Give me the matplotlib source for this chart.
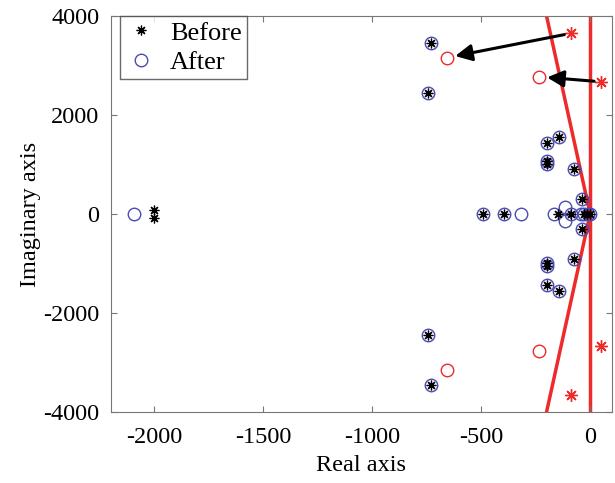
import matplotlib
matplotlib.use('Agg')
import matplotlib.pyplot as plt
import numpy as np

plt.rcParams['font.family'] = ['Liberation Serif', 'DejaVu Serif']
plt.rcParams['axes.unicode_minus'] = False

# bieguny przed (Before) -- czarne gwiazdki
before_re = [-2000, -2000, -730, -730, -742, -742, -490, -395, -148, -87, -26, -15, 0,
             -200, -200, -145, -145, -200, -200, -200, -200, -73, -73, -36, -36]
before_im = [90, -90, 3450, -3450, 2450, -2450, 0, 0, 0, 0, 0, 0, 0,
             1440, -1440, 1560, -1560, 1000, -1000, 1060, -1060, 900, -900, 305, -305]

# bieguny po (After) -- niebieskie kółka
after_re = [-2093, -730, -730, -742, -742, -490, -395, -317, -168, -114, -114, -87, -40, -26, -10, 0,
            -200, -200, -145, -145, -200, -200, -200, -200, -73, -73, -36, -36]
after_im = [0, 3450, -3450, 2450, -2450, 0, 0, 0, 0, 150, -150, 0, 0, 0, 0, 0,
            1440, -1440, 1560, -1560, 1000, -1000, 1060, -1060, 900, -900, 305, -305]

# bieguny dominujące (czerwone) przed i po przesunięciu
red_star_re = [-87, 50, -87, 50]
red_star_im = [3650, 2670, -3650, -2670]
red_circ_re = [-657, -236, -657, -236]
red_circ_im = [3157, 2773, -3157, -2773]

# granice obszaru (czerwone linie)
bound_re = [-210, 0, -210]
bound_im = [4200, 0, -4200]
vert_re = [0, 0]
vert_im = [-4200, 4200]

blue = '#4b4bb4'
red = '#ee2a2a'
asterisk = (8, 2, 0)

fig, ax = plt.subplots(figsize=(6.15, 4.83), dpi=100)
fig.subplots_adjust(left=0.18, right=0.995, top=0.967, bottom=0.147)

ax.plot(bound_re, bound_im, color=red, lw=2.5, zorder=1)
ax.plot(vert_re, vert_im, color=red, lw=2.5, zorder=1)

ax.plot(before_re, before_im, linestyle='none', marker=asterisk, color='k',
        markersize=7, markeredgewidth=0.9, label='Before', zorder=3)
ax.plot(after_re, after_im, linestyle='none', marker='o', markerfacecolor='none',
        markeredgecolor=blue, markersize=9, markeredgewidth=1.0, label='After', zorder=2)

ax.plot(red_star_re, red_star_im, linestyle='none', marker=asterisk, color=red,
        markersize=9, markeredgewidth=1.0, zorder=3)
ax.plot(red_circ_re, red_circ_im, linestyle='none', marker='o', markerfacecolor='none',
        markeredgecolor=red, markersize=9, markeredgewidth=1.0, zorder=3)

# strzałki od górnych czerwonych gwiazdek do kółek
for i in range(2):
    ax.annotate('', xy=(red_circ_re[i], red_circ_im[i]), xytext=(red_star_re[i], red_star_im[i]),
                arrowprops=dict(arrowstyle='-|>', color='k', lw=2.2, mutation_scale=25,
                                shrinkA=5, shrinkB=6), zorder=4)

ax.set_xlim(-2200, 100)
ax.set_ylim(-4000, 4000)
ax.set_xticks([-2000, -1500, -1000, -500, 0])
ax.set_yticks([-4000, -2000, 0, 2000, 4000])
ax.tick_params(direction='in', top=True, right=True, length=4, color='#777777',
               labelsize=17.5)
ax.tick_params(axis='x', pad=11)
ax.tick_params(axis='y', pad=8)
for s in ax.spines.values():
    s.set_color('#777777')

ax.set_xlabel('Real axis', fontsize=17.5, labelpad=5)
ax.set_ylabel('Imaginary axis', fontsize=17.5, labelpad=2)

leg = ax.legend(loc='upper left', bbox_to_anchor=(0.018, 1.0), borderaxespad=0,
                fontsize=19, fancybox=False, handletextpad=0.45, borderpad=0.2,
                labelspacing=0.22, handlelength=1.25)
leg.get_frame().set_edgecolor('#444444')
leg.get_frame().set_linewidth(1.0)

plt.savefig('out.png', dpi=100)
